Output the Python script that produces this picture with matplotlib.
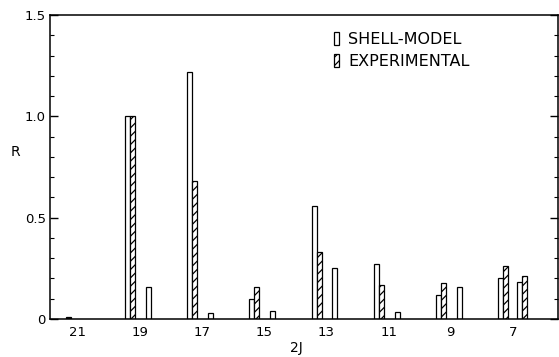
import matplotlib
matplotlib.use("Agg")
import matplotlib.pyplot as plt
from matplotlib.patches import Patch
from matplotlib.ticker import MultipleLocator, FixedLocator

# ---- data ----
two_j = [21, 19, 17, 15, 13, 11, 9, 7]
tick_labels = ["21", "19", "17", "15", "13", "11", "9", "7"]
# first (main) state for each 2J
shell_main = [0.0, 1.00, 1.22, 0.10, 0.56, 0.27, 0.12, 0.20]
exp_main = [0.008, 1.00, 0.68, 0.16, 0.33, 0.17, 0.18, 0.26]
# second state (shell-model only, except 2J=7)
shell_second = [None, 0.16, 0.03, 0.04, 0.25, 0.035, 0.16, 0.185]
exp_second = [None, None, None, None, None, None, None, 0.21]

plt.rcParams['font.family'] = ['DejaVu Sans']
plt.rcParams['hatch.linewidth'] = 0.9

fig = plt.figure(figsize=(5.59, 3.57), dpi=100)
ax = fig.add_axes([50 / 559, 1 - 319 / 357, 508 / 559, (319 - 15) / 357])

w = 0.16
lw = 0.9
for j, s, e, s2, e2 in zip(two_j, shell_main, exp_main, shell_second, exp_second):
    if s > 0:
        ax.bar(j + 0.40, s, width=w, facecolor='white', edgecolor='black', linewidth=lw)
    if e is not None:
        if e < 0.02:
            ax.bar(j + 0.30, e, width=w, facecolor='black', edgecolor='black', linewidth=lw)
        else:
            ax.bar(j + 0.24, e, width=w, facecolor='white', edgecolor='black', linewidth=lw, hatch='////')
    if s2 is not None:
        xs = j - 0.20 if e2 is not None else j - 0.27
        ax.bar(xs, s2, width=w, facecolor='white', edgecolor='black', linewidth=lw)
    if e2 is not None:
        ax.bar(j - 0.36, e2, width=w, facecolor='white', edgecolor='black', linewidth=lw, hatch='////')

ax.set_xlim(21.9, 5.55)
ax.set_ylim(0, 1.5)

ax.xaxis.set_major_locator(FixedLocator(two_j))
ax.set_xticklabels(tick_labels, fontsize=9.5)
ax.tick_params(axis='x', length=0, pad=5)

ax.yaxis.set_major_locator(FixedLocator([0, 0.5, 1.0, 1.5]))
ax.set_yticklabels(["0", "0.5", "1.0", "1.5"], fontsize=9.5)
ax.yaxis.set_minor_locator(MultipleLocator(0.1))
ax.tick_params(axis='y', which='major', direction='in', length=6, width=1, right=True, pad=3)
ax.tick_params(axis='y', which='minor', direction='in', length=3, width=0.8, right=True)

for sp in ax.spines.values():
    sp.set_linewidth(1.1)

ax.text(-35 / 508, (319 - 152) / 304, "R", transform=ax.transAxes, fontsize=10,
        ha='center', va='center')
ax.text((296 - 50) / 508, -29 / 304, "2J", transform=ax.transAxes, fontsize=10,
        ha='center', va='center')

handles = [Patch(facecolor='white', edgecolor='black', linewidth=lw),
           Patch(facecolor='white', edgecolor='black', linewidth=lw, hatch='////')]
leg = ax.legend(handles, ["SHELL-MODEL", "EXPERIMENTAL"], loc='upper left',
                bbox_to_anchor=((334 - 50) / 508, (319 - 32) / 304),
                frameon=False, fontsize=11.5, handlelength=0.3, handleheight=0.9,
                handletextpad=0.6, labelspacing=0.4, borderaxespad=0, borderpad=0)

fig.savefig("out.png", dpi=100)
